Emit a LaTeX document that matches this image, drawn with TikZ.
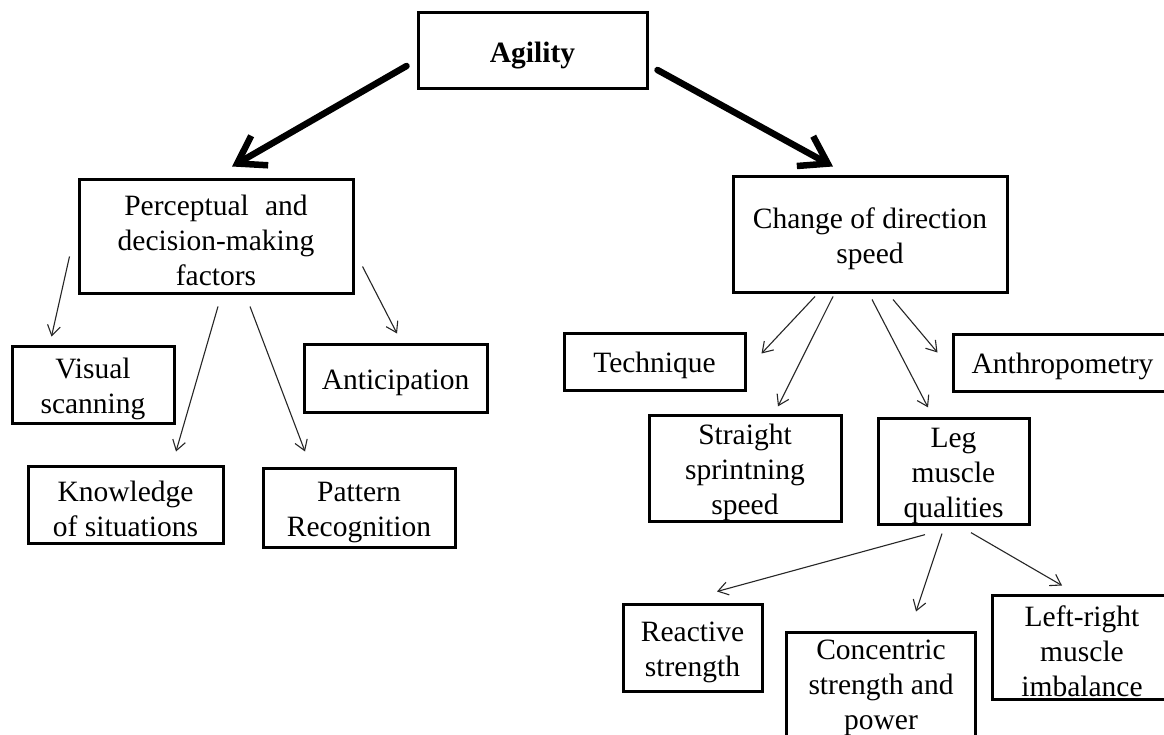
\documentclass[tikz,border=0pt]{standalone}
\usepackage{fontspec}
\setmainfont{Liberation Serif}
\usetikzlibrary{arrows.meta,calc}
\newcommand\upstrut{\rule{0pt}{29pt}}
\begin{document}
\begin{tikzpicture}[x=1pt,y=-1pt,
  box/.style={draw, line width=3pt, inner sep=0pt, align=center,
    font=\fontsize{29.5pt}{35pt}\selectfont},
  thinarrow/.style={line width=1.1pt, draw=black!85,
    -{Straight Barb[length=10pt,width=13pt,line width=1.1pt]}},
  thickarrow/.style={line width=6.5pt, line cap=round,
    -{Straight Barb[length=26pt,width=34pt,line width=6.5pt]}}]
\useasboundingbox (0,0) rectangle (1164,735);
\fill[white] (0,0) rectangle (1164,735);

% nodes
\node[box, minimum width=229pt, minimum height=76pt] (agi) at (532.5,51) {\upstrut\textbf{Agility}};
\node[box, minimum width=274pt, minimum height=113pt] (per) at (216,236.5) {\upstrut Perceptual\hspace{0.3em} and\\decision-making\\factors};
\node[box, minimum width=162pt, minimum height=77pt] (vis) at (93,384.5) {\upstrut Visual\\scanning};
\node[box, minimum width=183pt, minimum height=68pt] (ant) at (395.5,378) {\upstrut Anticipation};
\node[box, minimum width=195pt, minimum height=77pt] (kno) at (125.5,504.5) {\upstrut Knowledge\\of situations};
\node[box, minimum width=192pt, minimum height=79pt] (pat) at (359,507.5) {\upstrut Pattern\\Recognition};

\node[box, minimum width=274pt, minimum height=115pt] (chg) at (870,234.5) {\upstrut Change of direction\\speed};
\node[box, minimum width=181pt, minimum height=57pt] (tec) at (654.5,361.5) {\upstrut Technique};
\node[box, minimum width=219pt, minimum height=57pt] (anth) at (1062.5,362.5) {\upstrut Anthropometry};
\node[box, minimum width=192pt, minimum height=103pt] (str) at (745,468.5) {\upstrut Straight\\sprintning\\speed};
\node[box, minimum width=151pt, minimum height=105pt] (leg) at (953.5,471.5) {\upstrut Leg\\muscle\\qualities};
\node[box, minimum width=139pt, minimum height=87pt] (rea) at (692.5,647.5) {\upstrut Reactive\\strength};
\node[box, minimum width=189pt, minimum height=111pt] (con) at (881,687.5) {Concentric\\strength and\\power};
\node[box, minimum width=180pt, minimum height=104pt] (lr) at (1082,647) {\upstrut Left-right\\muscle\\imbalance};

% thick arrows
\draw[thickarrow] ($(agi.west)+(-10,15)$) -- ($(per.north)+(16,-12)$);
\draw[thickarrow] ($(agi.east)+(9,19)$) -- ($(chg.north)+(-37,-9)$);

% left thin arrows
\draw[thinarrow] ($(per.south west)+(-8,-38)$) -- ($(vis.north west)+(41,-8)$);
\draw[thinarrow] ($(per.south)+(2,12)$) -- ($(kno.north)+(50.5,-13)$);
\draw[thinarrow] ($(per.south)+(34,12)$) -- ($(pat.north)+(-54,-15)$);
\draw[thinarrow] ($(per.south east)+(8,-28)$) -- ($(ant.north)+(1.5,-9)$);

% right thin arrows
\draw[thinarrow] ($(chg.south)+(-55,3)$) -- ($(tec.north east)+(15,22)$);
\draw[thinarrow] ($(chg.south)+(-37,3)$) -- ($(str.north)+(33,-8)$);
\draw[thinarrow] ($(chg.south)+(2,6)$) -- ($(leg.north)+(-25.5,-10)$);
\draw[thinarrow] ($(chg.south)+(23,6)$) -- ($(anth.north west)+(-14,20)$);

\draw[thinarrow] ($(leg.south)+(-28.5,9)$) -- ($(rea.north)+(24.5,-11)$);
\draw[thinarrow] ($(leg.south)+(-11.5,8)$) -- ($(con.north)+(35,-19)$);
\draw[thinarrow] ($(leg.south)+(17.5,7)$) -- ($(lr.north)+(-20,-8)$);
\end{tikzpicture}
\end{document}
